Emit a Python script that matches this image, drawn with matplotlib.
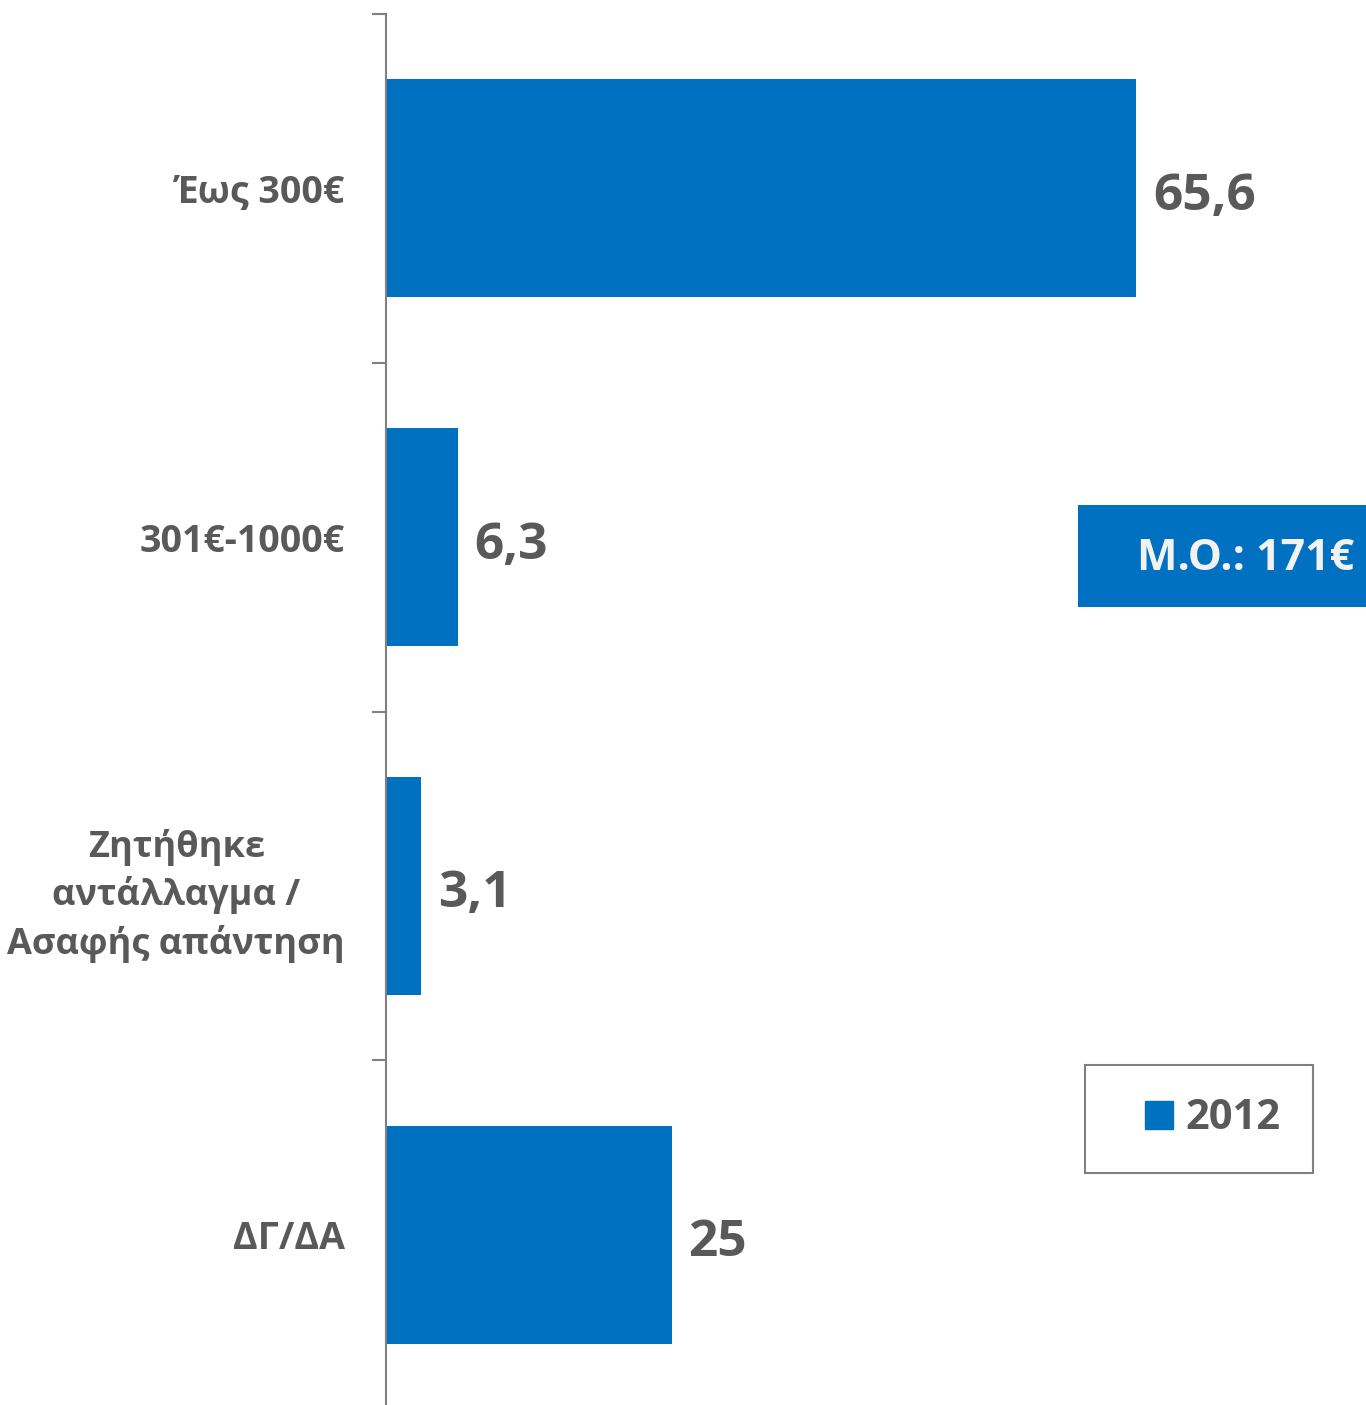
import matplotlib
matplotlib.use("Agg")
import matplotlib.pyplot as plt
from matplotlib.patches import Rectangle
from matplotlib.lines import Line2D

plt.rcParams['font.family'] = ['Open Sans', 'DejaVu Sans']

categories = ["Έως 300€", "301€-1000€", "Ζητήθηκε\nαντάλλαγμα /\nΑσαφής απάντηση", "ΔΓ/ΔΑ"]
values = [65.6, 6.3, 3.1, 25]
value_labels = ["65,6", "6,3", "3,1", "25"]
series_name = "2012"
mean_note = "M.O.: 171€"

BLUE = "#0070C0"
GRAY = "#595959"
AXGRAY = "#808080"

W, H = 1366, 1405
fig = plt.figure(figsize=(W / 100, H / 100), dpi=100)
ax = fig.add_axes([386 / W, -4 / H, 972 / W, 1395 / H])

ypos = list(range(len(categories)))
ax.barh(ypos, values, height=0.625, color=BLUE, zorder=2)
ax.set_xlim(0, 85)
ax.set_ylim(len(categories) - 0.5, -0.5)

for y, v, lab in zip(ypos, values, value_labels):
    ax.annotate(lab, xy=(v, y), xytext=(12, -15.5), textcoords="offset points",
                ha="left", va="baseline", fontsize=37, fontweight="bold", color=GRAY)

ax.set_yticks(ypos)
ax.set_yticklabels(categories, fontsize=27, fontweight="bold", color=GRAY,
                   multialignment="center", linespacing=1.05)
for t in ax.get_yticklabels():
    if "\n" in t.get_text():
        t.set_fontsize(26)
        t.set_linespacing(1.36)
ax.tick_params(axis="y", which="major", length=0, pad=29.5)
ax.set_yticks([i - 0.5 for i in range(len(categories) + 1)], minor=True)
ax.tick_params(axis="y", which="minor", length=10, width=1.5, color=AXGRAY, direction="out")
ax.set_xticks([])
for s in ["top", "right", "bottom"]:
    ax.spines[s].set_visible(False)
ax.spines["left"].set_color(AXGRAY)
ax.spines["left"].set_linewidth(1.5)

# Mean annotation box
fig.patches.append(Rectangle((1078 / W, 1 - 607 / H), (W - 1078 + 10) / W, 102 / H,
                             transform=fig.transFigure, facecolor=BLUE, edgecolor="none", zorder=3))
fig.text(1246 / W, 1 - 558 / H, mean_note, ha="center", va="center", fontsize=31,
         fontweight="bold", color="#F2F2F2", zorder=4)

# Legend
handle = Line2D([], [], marker="s", linestyle="None", markersize=19.5,
                markerfacecolor=BLUE, markeredgecolor=BLUE)
leg = fig.legend([handle], [series_name], loc="upper left",
                 bbox_to_anchor=(1085 / W, 1 - 1065 / H), borderaxespad=0,
                 prop={"size": 30, "weight": "bold"}, labelcolor=GRAY,
                 frameon=True, fancybox=False, edgecolor=AXGRAY, framealpha=1,
                 borderpad=0.8, handlelength=1.94, handletextpad=-0.34, numpoints=1)
leg.get_frame().set_linewidth(1.5)

fig.savefig("out.png", dpi=100, facecolor="white")
